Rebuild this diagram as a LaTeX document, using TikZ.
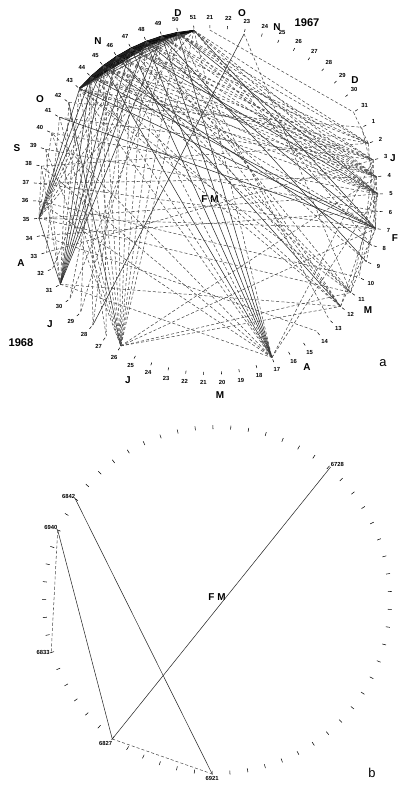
\documentclass[tikz,border=0pt]{standalone}
\usepackage{fontspec}
\setsansfont{Liberation Sans}
\usetikzlibrary{math}

\begin{document}
\begin{tikzpicture}[x=0.03cm,y=-0.03cm,
  link/.style={line width=0.45pt, black!85},
  dlink/.style={line width=0.45pt, black!72, dash pattern=on 2.6pt off 1.8pt},
  band/.style={line width=1.2pt, black},
  thinband/.style={line width=0.4pt, black!85},
  tickmark/.style={line width=0.45pt},
  wklab/.style={font=\sffamily\bfseries\fontsize{5}{6}\selectfont, inner sep=0pt},
  month/.style={font=\sffamily\bfseries\fontsize{8.5}{10}\selectfont, inner sep=0pt},
  yearlab/.style={font=\sffamily\bfseries\fontsize{9.5}{11}\selectfont, inner sep=0pt},
  panel/.style={font=\sffamily\fontsize{11}{12}\selectfont, inner sep=0pt},
  declare function={wkang(\k)=(\k<27.5)*(-89.4+5.826*\k)+and(\k>27.5,\k<53.5)*(67.9+5.885*(\k-27))+(\k>53.5)*(220.9+5.55*(\k-53));}
]
\tikzmath{
\cxa=208;
\cya=200;
\cxb=217;
\cyb=600;
}
\useasboundingbox (0,0) rectangle (399,785);

%circle a: weeks 1967
\foreach \w [count=\k from 0] in {21,...,31}{
  \pgfmathsetmacro\ang{wkang(\k)}
  \coordinate (o\w) at ([shift={(\cxa,\cya)}]\ang:170);
  \draw[tickmark] ([shift={(\cxa,\cya)}]\ang:172) -- ([shift={(\cxa,\cya)}]\ang:175);
  \node[wklab] (lo\w) at ([shift={(\cxa,\cya)}]\ang:183) {\w};
}
%circle a: weeks 1968
\foreach \w in {1,...,51}{
  \pgfmathsetmacro\ang{wkang(\w+10)}
  \coordinate (n\w) at ([shift={(\cxa,\cya)}]\ang:170);
  \draw[tickmark] ([shift={(\cxa,\cya)}]\ang:172) -- ([shift={(\cxa,\cya)}]\ang:175);
  \node[wklab] (ln\w) at ([shift={(\cxa,\cya)}]\ang:183) {\w};
}
%inner edge of the band
\foreach \w/\r in {45/163, 46/162, 47/163, 48/165, 49/166}{
  \pgfmathsetmacro\ang{wkang(\w+10)}
  \coordinate (nb\w) at ([shift={(\cxa,\cya)}]\ang:\r);
}

%months
\node[month] (mo67) at (242,13) {O};
\node[month] (mn67) at (277,27) {N};
\node[yearlab] (y67) at (307,23) {1967};
\node[month] (md67) at (355,80) {D};
\node[month] (mjan) at (393,158) {J};
\node[month] (mfeb) at (395,238) {F};
\node[month] (mmar) at (368,310) {M};
\node[month] (mapr) at (307,367) {A};
\node[month] (mmay) at (220,395) {M};
\node[month] (mjun) at (128,380) {J};
\node[yearlab] (y68) at (21,343) {1968};
\node[month] (mjul) at (50,324) {J};
\node[month] (maug) at (21,263) {A};
\node[month] (msep) at (17,148) {S};
\node[month] (moct) at (40,99) {O};
\node[month] (mnov) at (98,41) {N};
\node[month] (mdec) at (178,13) {D};
\node[month] (fma) at (210,199) {F M};
\node[panel] (pa) at (383,363) {a};

%dense band 43-51
\fill[black] (n43) \foreach \w in {44,...,51}{ -- (n\w)} -- (nb49) -- (nb48) -- (nb47) -- (nb46) -- (nb45) -- cycle;
\foreach \i in {43,...,50}{
  \pgfmathtruncatemacro\ii{\i+1}
  \pgfmathtruncatemacro\ie{min(\i+3,51)}
  \foreach \j in {\ii,...,\ie} \draw[band] (n\i) -- (n\j);
  \foreach \j in {\ii,...,51} \draw[thinband] (n\i) -- (n\j);
}

%solid links
\foreach \p/\q in {o23/n28, n45/n17, n47/n17, n49/n17, n50/n17, n48/n17,
  n44/n31, n45/n31, n46/n31, n47/n31, n48/n31, n49/n31,
  n43/n35, n44/n35, n45/n35, n35/n31,
  n41/n7, n43/n7, n44/n7, n48/n7, n50/n5, n47/n5, n49/n9, n45/n8,
  n42/n26, n46/n12, n51/n7}
  \draw[link] (\p) -- (\q);

%dashed links
\foreach \p/\q in {o21/o31, o23/n11, o31/n2,
  n43/n17, n43/n26, n43/n31, n43/n4, n43/n12,
  n44/n26, n44/n17, n44/n5, n44/n3, n44/n29,
  n45/n26, n45/n27, n45/n4, n45/n11, n45/n7,
  n46/n26, n46/n17, n46/n3, n46/n35, n46/n30,
  n47/n26, n47/n35, n47/n4, n47/n9, n47/n28,
  n48/n26, n48/n5, n48/n11, n48/n2, n48/n32,
  n49/n26, n49/n35, n49/n3, n49/n12, n49/n29,
  n50/n26, n50/n7, n50/n4, n50/n13, n50/n30,
  n51/n35, n51/n17, n51/n5, n51/n8, n51/n26, n51/n2,
  n43/n2, n44/n4, n45/n3, n46/n5, n46/n4, n47/n3, n48/n4, n49/n4,
  n50/n3, n51/n4, n43/n5, n45/n5, n47/n2, n49/n5, n50/n2,
  n44/n12, n46/n11, n48/n12, n43/n11, n47/n12,
  n37/n4, n34/n6, n34/n14, n35/n7, n35/n5, n31/n17, n26/n12, n26/n11,
  n26/n7, n33/n3, n38/n2, n39/n6, n36/n10, n41/n3, n42/n1, n40/n5,
  n2/n7, n3/n7, n4/n7, n5/n9, n7/n12, n11/n7, n12/n5, n3/n10, n1/n5, n4/n11,
  n17/n38, n17/n36, n17/n40, n28/n44, n42/n31, n41/n33, n40/n35, n42/n27,
  n41/n26, n39/n31, n38/n35, n17/n3, n17/n5, n26/n4, n31/n12, n35/n11, n37/n7,
  n39/n26, n40/n26, n38/n31}
  \draw[dlink] (\p) -- (\q);

%circle b
\foreach \j in {0,...,60}{
  \pgfmathsetmacro\ang{91.6+5.902*\j}
  \draw[tickmark] ([shift={(\cxb,\cyb)}]\ang:171) -- ([shift={(\cxb,\cyb)}]\ang:175);
}
\coordinate (v6921) at ([shift={(\cxb,\cyb)}]91.6:174);
\coordinate (v6827) at ([shift={(\cxb,\cyb)}]127.0:174);
\coordinate (v6833) at ([shift={(\cxb,\cyb)}]162.4:174);
\coordinate (v6940) at ([shift={(\cxb,\cyb)}]203.7:174);
\coordinate (v6842) at ([shift={(\cxb,\cyb)}]215.5:174);
\coordinate (v6728) at ([shift={(\cxb,\cyb)}]310.5:175);

\node[wklab, anchor=south west] (l6728) at (v6728) {6728};
\node[wklab, anchor=south east] (l6842) at (v6842) {6842};
\node[wklab, anchor=south east] (l6940) at (v6940) {6940};
\node[wklab, anchor=east, xshift=-1pt] (l6833) at (v6833) {6833};
\node[wklab, anchor=north east, yshift=-2pt] (l6827) at (v6827) {6827};
\node[wklab, anchor=north, yshift=-2pt] (l6921) at (v6921) {6921};
\node[month] (fmb) at (217,597) {F M};
\node[panel] (pb) at (372,773) {b};

\draw[link] (v6728) -- (v6827);
\draw[link] (v6842) -- (v6921);
\draw[link] (v6940) -- (v6827);
\draw[dlink] (v6940) -- (v6833);
\draw[dlink] (v6827) -- (v6921);
\end{tikzpicture}
\end{document}
